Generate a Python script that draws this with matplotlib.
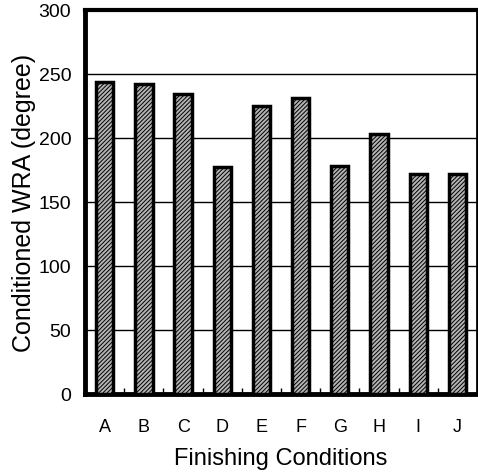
import matplotlib.pyplot as plt
import numpy as np

plt.rcParams['font.family'] = ['Liberation Sans', 'DejaVu Sans']
plt.rcParams['hatch.linewidth'] = 0.7

conditions = ['A', 'B', 'C', 'D', 'E', 'F', 'G', 'H', 'I', 'J']
wra = [244, 242, 234, 177, 225, 231, 178, 203, 172, 172]

fig = plt.figure(figsize=(4.78, 4.77), dpi=100)
ax = fig.add_axes([0.178, 0.172, 0.82, 0.805])

x = np.arange(len(conditions))
ax.bar(x, wra, width=0.44, facecolor='#b4b4b4', edgecolor='black',
       linewidth=2.5, hatch='////////', zorder=3)

ax.set_xlim(-0.5, len(conditions) - 0.5)
ax.set_ylim(0, 300)
ax.set_yticks(range(0, 301, 50))
ax.set_xticks(x)
ax.set_xticklabels(conditions, fontsize=13)
ax.set_xticks(x[:-1] + 0.5, minor=True)
ax.tick_params(axis='x', which='major', length=0, pad=17)
ax.tick_params(axis='x', which='minor', direction='in', length=4, width=1)
ax.tick_params(axis='y', direction='in', length=0, labelsize=14, pad=10)

for yv in range(50, 300, 50):
    ax.axhline(yv, color='black', linewidth=1.0, zorder=1)

ax.spines['left'].set_linewidth(3.5)
ax.spines['bottom'].set_linewidth(3.5)
ax.spines['top'].set_linewidth(3)
ax.spines['right'].set_linewidth(2)

ax.set_ylabel('Conditioned WRA (degree)', fontsize=18, labelpad=2)
ax.set_xlabel('Finishing Conditions', fontsize=17, labelpad=9)

fig.savefig('out.png', dpi=100)
